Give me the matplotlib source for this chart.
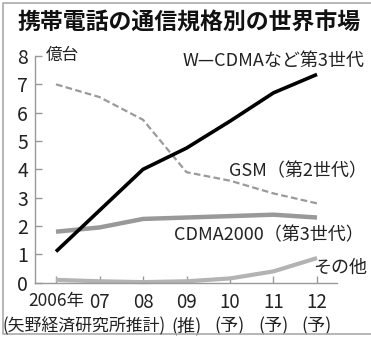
import matplotlib.pyplot as plt
from matplotlib.lines import Line2D

# data (units: 100 million handsets)
years = ["2006年", "07", "08", "09", "10", "11", "12"]
notes = ["", "", "", "(推)", "(予)", "(予)", "(予)"]
wcdma = [1.1, 2.55, 4.0, 4.75, 5.7, 6.7, 7.35]
gsm = [7.0, 6.55, 5.75, 3.9, 3.6, 3.15, 2.8]
cdma2000 = [1.8, 1.95, 2.25, 2.3, 2.35, 2.4, 2.3]
other = [0.1, 0.05, 0.02, 0.05, 0.15, 0.4, 0.87]

W, H = 371, 337
JP = ['Noto Sans CJK JP', 'DejaVu Sans']
NARROW = ['Liberation Sans Narrow', 'Noto Sans CJK JP', 'DejaVu Sans']
GRID = '#999999'

plt.rcParams['font.family'] = JP

fig = plt.figure(figsize=(W / 100, H / 100), dpi=100)
ax = fig.add_axes([35 / W, 1 - 282.7 / H, (337 - 35) / W, (282.7 - 56) / H])

x = list(range(len(years)))
ax.plot(x, other, color='#b3b3b3', lw=3, solid_capstyle='butt', clip_on=False)
ax.plot(x, cdma2000, color='#999999', lw=3.2, solid_capstyle='butt')
ax.plot(x, gsm, color='#9a9a9a', lw=1.6, ls=(0, (3, 1.5)))
ax.plot(x, wcdma, color='black', lw=2.6, solid_capstyle='butt')

ax.set_xlim(-0.483, 6.46)
ax.set_ylim(0, 8)
ax.set_yticks(range(9))
ax.set_xticks(x)
ax.set_xticklabels(years, family=NARROW, fontsize=13.5, color='#222222')
ax.get_xticklabels()[0].set_fontsize(12.5)
ax.set_yticklabels([str(i) for i in range(9)], family=NARROW, fontsize=14,
                   color='#222222')
ax.tick_params(axis='both', direction='in', length=5, color=GRID, width=1)
ax.tick_params(axis='x', pad=7)
ax.tick_params(axis='y', pad=5)
for s in ['top', 'right']:
    ax.spines[s].set_visible(False)
for s in ['left', 'bottom']:
    ax.spines[s].set_color(GRID)
    ax.spines[s].set_linewidth(1)

# second row under the year labels
for i, n in enumerate(notes):
    if n:
        ax.text(i, -0.191, n, transform=ax.get_xaxis_transform(), ha='center',
                va='center', fontsize=13, color='#222222', family=NARROW)


def ftext(px, py, s, **kw):
    fig.text(px / W, 1 - py / H, s, **kw)


ftext(18, 23, "携帯電話の通信規格別の世界市場", fontsize=16.5, fontweight='bold',
      va='center', ha='left', color='#111111')
ftext(46, 55, "億台", fontsize=12, va='center', ha='left', color='#222222')
ftext(364, 61, "W—CDMAなど第3世代", fontsize=13, va='center', ha='right',
      color='#222222')
ftext(367, 171, "GSM（第2世代）", fontsize=13, va='center', ha='right',
      color='#222222')
ftext(364, 235, "CDMA2000（第3世代）", fontsize=13, va='center', ha='right',
      color='#222222')
ftext(367, 268, "その他", fontsize=13, va='center', ha='right', color='#222222')
ftext(2, 326, "(矢野経済研究所推計)", fontsize=12.2, va='center', ha='left',
      color='#222222')

# frame on top, left and bottom of the graphic (open on the right)
fx = [W / W, 3 / W, 3 / W, W / W]
fy = [1 - 3 / H, 1 - 3 / H, 1 - 334 / H, 1 - 334 / H]
fig.lines.append(Line2D(fx, fy, transform=fig.transFigure, color='#aaaaaa',
                        lw=1.2))

fig.savefig('out.png', dpi=100)
